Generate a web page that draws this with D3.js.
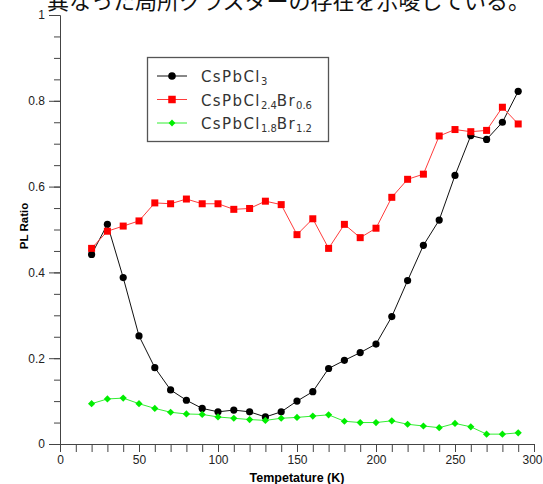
<!DOCTYPE html>
<html>
<head>
<meta charset="utf-8">
<title>PL Ratio</title>
<script src="https://cdn.jsdelivr.net/npm/d3@7"></script>
<style>
  body { margin: 0; background: #fff; }
  .tick text { font-family: "Liberation Sans Narrow", "Liberation Sans", sans-serif; font-size: 12px; fill: #222; }
  .tick line, .domain { stroke: #444; }
</style>
</head>
<body>
<script>
// 温度 (K)
var temps = [20,30,40,50,60,70,80,90,100,110,120,130,140,150,160,170,180,190,200,210,220,230,240,250,260,270,280,290];
// CsPbCl3
var cl3 = [0.442,0.512,0.388,0.252,0.178,0.126,0.102,0.083,0.075,0.079,0.075,0.063,0.075,0.100,0.122,0.176,0.195,0.213,0.233,0.297,0.381,0.463,0.522,0.626,0.719,0.710,0.750,0.822];
// CsPbCl2.4Br0.6
var cl24 = [0.456,0.496,0.508,0.520,0.562,0.560,0.571,0.560,0.560,0.547,0.549,0.566,0.558,0.488,0.525,0.456,0.512,0.481,0.503,0.575,0.617,0.629,0.718,0.733,0.728,0.731,0.785,0.746];
// CsPbCl1.8Br1.2
var cl18 = [0.094,0.105,0.107,0.094,0.083,0.074,0.070,0.069,0.063,0.060,0.057,0.055,0.060,0.062,0.065,0.068,0.053,0.050,0.050,0.054,0.046,0.042,0.038,0.048,0.040,0.023,0.023,0.026];
var xTicks = d3.range(0, 301, 10);
var yMinor = d3.range(0, 1.001, 0.05);
var yMajor = [0, 0.2, 0.4, 0.6, 0.8, 1];

var W = 543, H = 484;
var margin = {top: 15, right: 9, bottom: 40, left: 60};

var svg = d3.select("body").append("svg")
    .attr("width", W).attr("height", H);

// 上の切れた本文
svg.append("text")
    .attr("x", 47).attr("y", 8.5)
    .style("font-family", "'Noto Sans CJK JP', sans-serif")
    .style("font-size", "22px")
    .style("fill", "#111")
    .text("異なった局所クラスターの存在を示唆している。");

var x = d3.scaleLinear().domain([0, 300]).range([margin.left, W - margin.right]);
var y = d3.scaleLinear().domain([0, 1]).range([H - margin.bottom, margin.top]);

// x軸
var gx = svg.append("g")
    .attr("transform", "translate(0," + y(0) + ")")
    .call(d3.axisBottom(x).tickValues(xTicks).tickSize(8).tickSizeOuter(0).tickPadding(3)
        .tickFormat(function(d) { return d % 50 === 0 ? d : ""; }));
gx.selectAll(".tick text").filter(function(d) { return d === 300; }).attr("dx", -2);

// y軸 (補助目盛)
svg.append("g")
    .attr("transform", "translate(" + x(0) + ",0)")
    .call(d3.axisLeft(y).tickValues(yMinor).tickSize(6).tickSizeOuter(0).tickFormat(""));
// y軸 (主目盛)
svg.append("g")
    .attr("transform", "translate(" + x(0) + ",0)")
    .call(d3.axisLeft(y).tickValues(yMajor).tickSize(11).tickSizeOuter(0).tickPadding(4)
        .tickFormat(function(d) { return String(+d.toFixed(1)); }));

svg.append("text")
    .attr("x", (x(0) + x(300)) / 2).attr("y", 482)
    .attr("text-anchor", "middle")
    .style("font-family", "'Liberation Sans', sans-serif")
    .style("font-size", "12.5px").style("font-weight", "bold")
    .text("Tempetature (K)");

svg.append("text")
    .attr("transform", "translate(28,226) rotate(-90)")
    .attr("text-anchor", "middle")
    .style("font-family", "'Liberation Sans', sans-serif")
    .style("font-size", "11.5px").style("font-weight", "bold")
    .text("PL Ratio");

var series = [
    {name: ["CsPbCl", "3"], vals: cl3, line: "#111", fill: "#000", shape: "circle"},
    {name: ["CsPbCl", "2.4", "Br", "0.6"], vals: cl24, line: "#ff3b3b", fill: "#ff0000", shape: "square"},
    {name: ["CsPbCl", "1.8", "Br", "1.2"], vals: cl18, line: "#33ee33", fill: "#00ee00", shape: "diamond"}
];

var line = d3.line()
    .x(function(d) { return x(d[0]); })
    .y(function(d) { return y(d[1]); });

function marker(g, s, cx, cy, big) {
    if (s.shape === "circle") {
        g.append("circle").attr("cx", cx).attr("cy", cy).attr("r", big ? 3.8 : 3.6).attr("fill", s.fill);
    } else if (s.shape === "square") {
        var a = big ? 7.5 : 7;
        g.append("rect").attr("x", cx - a / 2).attr("y", cy - a / 2).attr("width", a).attr("height", a).attr("fill", s.fill);
    } else {
        var r = big ? 3.4 : 3.6;
        g.append("path").attr("d", "M" + cx + "," + (cy - r) + "L" + (cx + r) + "," + cy + "L" + cx + "," + (cy + r) + "L" + (cx - r) + "," + cy + "Z").attr("fill", s.fill);
    }
}

series.forEach(function(s) {
    var pts = temps.map(function(t, i) { return [t, s.vals[i]]; });
    svg.append("path").datum(pts)
        .attr("d", line)
        .attr("fill", "none")
        .attr("stroke", s.line)
        .attr("stroke-width", 1);
    var g = svg.append("g");
    pts.forEach(function(p) { marker(g, s, x(p[0]), y(p[1]), false); });
});

// 凡例
var leg = svg.append("g");
leg.append("rect")
    .attr("x", 147.5).attr("y", 57.5).attr("width", 181).attr("height", 84)
    .attr("fill", "#fff").attr("stroke", "#555").attr("stroke-width", 1.3);

series.forEach(function(s, i) {
    var ly = 76 + i * 23.5;
    leg.append("line").attr("x1", 157).attr("x2", 187).attr("y1", ly).attr("y2", ly)
        .attr("stroke", s.line).attr("stroke-width", 1);
    marker(leg, s, 172, ly, true);
    var t = leg.append("text")
        .attr("x", 201).attr("y", ly + 6)
        .style("font-family", "'DejaVu Sans', sans-serif")
        .style("font-size", "15px")
        .style("fill", "#333");
    s.name.forEach(function(part, j) {
        var sub = j % 2 === 1;
        t.append("tspan")
            .attr("dy", sub ? 3 : (j === 0 ? 0 : -3))
            .style("font-size", sub ? "10px" : "15px")
            .style("letter-spacing", sub ? "0px" : "1.4px")
            .text(part);
    });
});
</script>
</body>
</html>
